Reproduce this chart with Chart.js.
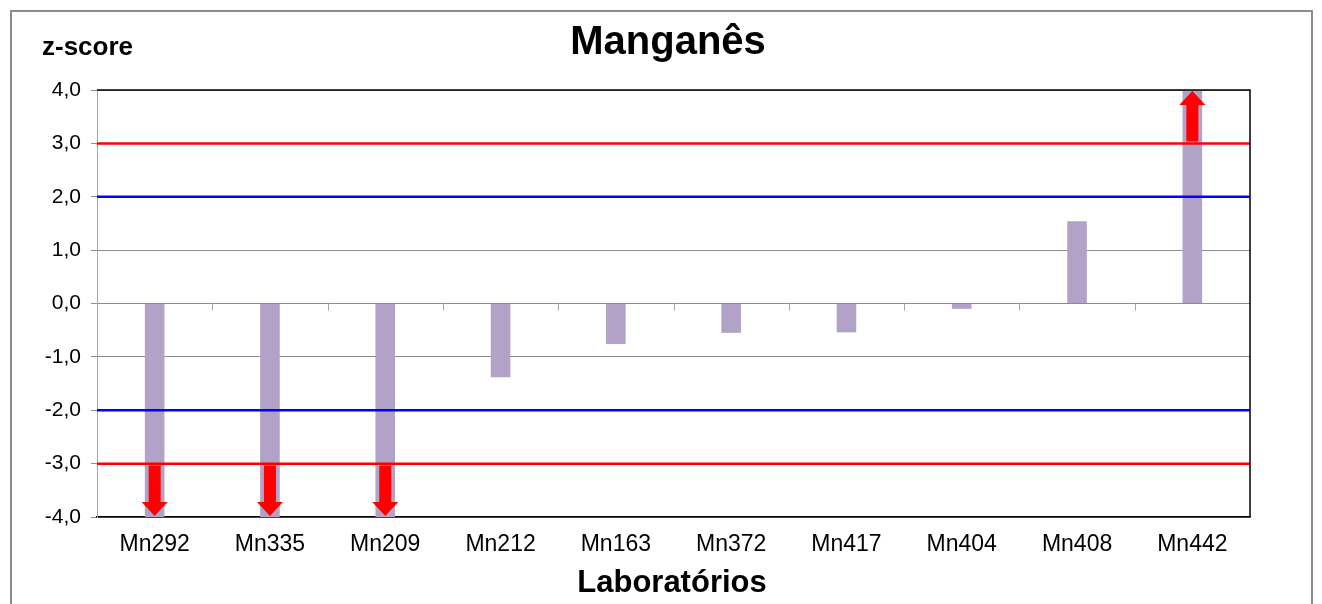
<!DOCTYPE html>
<html>
<head>
<meta charset="utf-8">
<script src="https://cdn.jsdelivr.net/npm/chart.js@4.4.0/dist/chart.umd.min.js"></script>
<style>
  html, body { margin: 0; padding: 0; background: #fff; }
  #wrap { width: 1322px; height: 604px; position: relative; }
</style>
</head>
<body>
<div id="wrap"><canvas id="myChart" width="1322" height="604"></canvas></div>
<script>
// data
const labs = ["Mn292", "Mn335", "Mn209", "Mn212", "Mn163", "Mn372", "Mn417", "Mn404", "Mn408", "Mn442"];
const zScores = [-4.6, -4.6, -4.6, -1.38, -0.76, -0.55, -0.54, -0.10, 1.54, 4.5];
const yTicks = [-4, -3, -2, -1, 0, 1, 2, 3, 4];
const redLimits = [3, -3];
const blueLimits = [2, -2];

const FONT = "'Liberation Sans', Arial, sans-serif";

const decor = {
  id: "decor",
  beforeDraw(chart) {
    const ctx = chart.ctx;
    ctx.save();
    ctx.fillStyle = "#fff";
    ctx.fillRect(0, 0, chart.width, chart.height);
    ctx.strokeStyle = "#8c8c8c";
    ctx.lineWidth = 2;
    ctx.strokeRect(11, 11, 1301, 700);
    ctx.restore();
  },
  afterDatasetsDraw(chart) {
    const ctx = chart.ctx;
    const x = chart.scales.x, y = chart.scales.y;
    const a = chart.chartArea;
    ctx.save();
    // limit lines
    const hline = (v, col, w) => {
      const py = y.getPixelForValue(v);
      ctx.strokeStyle = col;
      ctx.lineWidth = w;
      ctx.beginPath();
      ctx.moveTo(a.left, py);
      ctx.lineTo(a.right, py);
      ctx.stroke();
    };
    blueLimits.forEach(v => hline(v, "#0000ff", 2.5));
    redLimits.forEach(v => hline(v, "#ff0000", 2.5));

    // small ticks on the zero line between categories
    const y0 = y.getPixelForValue(0);
    ctx.strokeStyle = "#a6a6a6";
    ctx.lineWidth = 1;
    for (let i = 1; i < labs.length; i++) {
      const px = Math.round((x.getPixelForValue(i - 1) + x.getPixelForValue(i)) / 2) + 0.5;
      ctx.beginPath();
      ctx.moveTo(px, y0);
      ctx.lineTo(px, y0 + 7);
      ctx.stroke();
    }

    // arrows for values outside the axis range
    const meta = chart.getDatasetMeta(0);
    ctx.fillStyle = "#ff0000";
    zScores.forEach((v, i) => {
      if (v >= y.min && v <= y.max) return;
      const cx = meta.data[i].x;
      const dir = v < y.min ? 1 : -1;
      const start = y.getPixelForValue(dir > 0 ? -3 : 3) + dir * 2;
      const tip = y.getPixelForValue(dir > 0 ? y.min : y.max) - dir * 1;
      const base = tip - dir * 14;
      ctx.fillRect(cx - 6, Math.min(start, base), 12, Math.abs(base - start));
      ctx.beginPath();
      ctx.moveTo(cx - 13, base);
      ctx.lineTo(cx + 13, base);
      ctx.lineTo(cx, tip);
      ctx.closePath();
      ctx.fill();
    });

    // top and right border of the plot area
    ctx.strokeStyle = "#000";
    ctx.lineWidth = 1.5;
    ctx.beginPath();
    ctx.moveTo(a.left, a.top);
    ctx.lineTo(a.right, a.top);
    ctx.lineTo(a.right, a.bottom);
    ctx.stroke();

    // texts
    ctx.fillStyle = "#000";
    ctx.textAlign = "center";
    ctx.textBaseline = "middle";
    ctx.font = "bold 40px " + FONT;
    ctx.fillText("Manganês", 668, 43);
    ctx.font = "bold 31px " + FONT;
    ctx.fillText("Laboratórios", 672, 583);
    ctx.textAlign = "left";
    ctx.font = "bold 26px " + FONT;
    ctx.fillText("z-score", 42, 48);
    ctx.restore();
  }
};

new Chart(document.getElementById("myChart").getContext("2d"), {
  type: "bar",
  data: {
    labels: labs,
    datasets: [{
      label: "z-score",
      data: zScores,
      backgroundColor: "#b3a2c7",
      borderWidth: 0,
      barPercentage: 0.17,
      categoryPercentage: 1.0
    }]
  },
  options: {
    responsive: false,
    animation: false,
    layout: { padding: { top: 90, right: 72, left: 10, bottom: 0 } },
    plugins: { legend: { display: false }, tooltip: { enabled: false } },
    scales: {
      x: {
        grid: { display: false, drawTicks: false },
        border: { color: "#000", width: 1.5 },
        ticks: { color: "#000", font: { family: FONT, size: 23 }, padding: 14, maxRotation: 0 },
        afterFit(s) { s.height = 87; }
      },
      y: {
        min: -4,
        max: 4,
        afterBuildTicks(s) { s.ticks = yTicks.map(v => ({ value: v })); },
        grid: { color: "#8c8c8c", lineWidth: 1, tickLength: 6 },
        border: { color: "#a6a6a6", width: 1 },
        ticks: {
          color: "#000",
          font: { family: FONT, size: 21 },
          padding: 10,
          callback: v => v.toFixed(1).replace(".", ",")
        },
        afterFit(s) { s.width = 87; }
      }
    }
  },
  plugins: [decor]
});
</script>
</body>
</html>
